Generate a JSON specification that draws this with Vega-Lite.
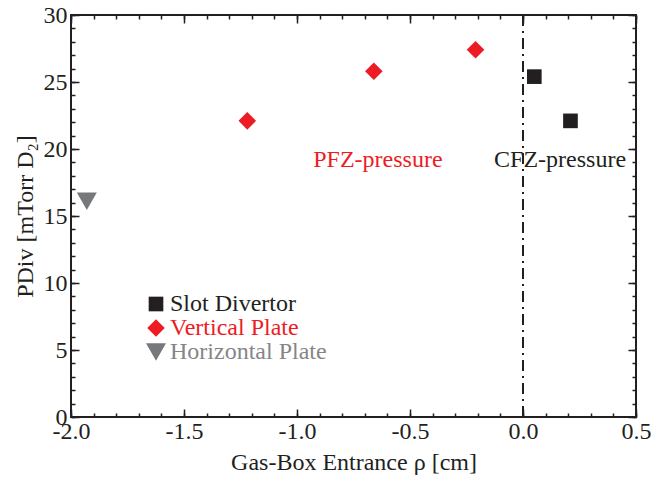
{
  "$schema": "https://vega.github.io/schema/vega-lite/v6.json",
  "width": 565,
  "height": 402,
  "autosize": {"type": "none"},
  "padding": {"left": 71, "top": 15, "right": 17, "bottom": 65},
  "background": "white",
  "config": {
    "view": {"stroke": "#231f20", "strokeWidth": 2},
    "font": "Liberation Serif",
    "axis": {
      "grid": false,
      "domain": false,
      "tickColor": "#231f20",
      "tickWidth": 1.5,
      "labelFont": "Liberation Serif",
      "labelFontSize": 24,
      "labelColor": "#231f20",
      "titleFont": "Liberation Serif",
      "titleFontSize": 24,
      "titleFontWeight": "normal",
      "titleColor": "#231f20",
      "labelFlush": false,
      "labelOverlap": false
    }
  },
  "datasets": {
    "points": [
      {"rho": -1.93, "p": 16.1, "setup": "Horizontal Plate"},
      {"rho": -1.22, "p": 22.1, "setup": "Vertical Plate"},
      {"rho": -0.66, "p": 25.8, "setup": "Vertical Plate"},
      {"rho": -0.21, "p": 27.4, "setup": "Vertical Plate"},
      {"rho": 0.05, "p": 25.4, "setup": "Slot Divertor"},
      {"rho": 0.21, "p": 22.1, "setup": "Slot Divertor"}
    ],
    "notes": [
      {"rho": -0.642, "p": 19.2, "text": "PFZ-pressure"},
      {"rho": 0.164, "p": 19.2, "text": "CFZ-pressure"}
    ]
  },
  "layer": [
    {
      "data": {"name": "points"},
      "mark": {"type": "point", "opacity": 0},
      "encoding": {
        "x": {"field": "rho", "type": "quantitative", "scale": {"domain": [-2, 0.5], "nice": false, "zero": false},
          "axis": {"orient": "top", "values": [-2, -1.5, -1, -0.5, 0, 0.5], "tickSize": -8, "labels": false, "title": null}},
        "y": {"field": "p", "type": "quantitative", "scale": {"domain": [0, 30], "nice": false},
          "axis": {"orient": "right", "values": [0, 5, 10, 15, 20, 25, 30], "tickSize": -8, "labels": false, "title": null}}
      }
    },
    {
      "data": {"name": "points"},
      "mark": {"type": "point", "opacity": 0},
      "encoding": {
        "x": {"field": "rho", "type": "quantitative",
          "axis": {"orient": "bottom", "values": [-2, -1.9, -1.8, -1.7, -1.6, -1.5, -1.4, -1.3, -1.2, -1.1, -1, -0.9, -0.8, -0.7, -0.6, -0.5, -0.4, -0.3, -0.2, -0.1, 0, 0.1, 0.2, 0.3, 0.4, 0.5], "tickSize": -4, "labels": false, "title": null}},
        "y": {"field": "p", "type": "quantitative",
          "axis": {"orient": "left", "values": [0, 1, 2, 3, 4, 5, 6, 7, 8, 9, 10, 11, 12, 13, 14, 15, 16, 17, 18, 19, 20, 21, 22, 23, 24, 25, 26, 27, 28, 29, 30], "tickSize": -4, "labels": false, "title": null}}
      }
    },
    {
      "data": {"name": "points"},
      "mark": {"type": "point", "opacity": 0},
      "encoding": {
        "x": {"field": "rho", "type": "quantitative",
          "axis": {"orient": "top", "values": [-2, -1.9, -1.8, -1.7, -1.6, -1.5, -1.4, -1.3, -1.2, -1.1, -1, -0.9, -0.8, -0.7, -0.6, -0.5, -0.4, -0.3, -0.2, -0.1, 0, 0.1, 0.2, 0.3, 0.4, 0.5], "tickSize": -4, "labels": false, "title": null}},
        "y": {"field": "p", "type": "quantitative",
          "axis": {"orient": "right", "values": [0, 1, 2, 3, 4, 5, 6, 7, 8, 9, 10, 11, 12, 13, 14, 15, 16, 17, 18, 19, 20, 21, 22, 23, 24, 25, 26, 27, 28, 29, 30], "tickSize": -4, "labels": false, "title": null}}
      }
    },
    {
      "data": {"values": [{"v": 0}]},
      "mark": {"type": "rule", "stroke": "#231f20", "strokeWidth": 2, "strokeDash": [11, 5, 2, 5]},
      "encoding": {
        "x": {"field": "v", "type": "quantitative", "axis": null}
      }
    },
    {
      "data": {"name": "notes"},
      "mark": {"type": "text", "font": "Liberation Serif", "fontSize": 24, "baseline": "middle", "align": "center"},
      "encoding": {
        "x": {"field": "rho", "type": "quantitative", "axis": null},
        "y": {"field": "p", "type": "quantitative", "axis": null},
        "text": {"field": "text"},
        "color": {"condition": {"test": "datum.text === 'PFZ-pressure'", "value": "#ed1c24"}, "value": "#231f20"}
      }
    },
    {
      "data": {"name": "points"},
      "mark": {"type": "point", "filled": true, "opacity": 1, "strokeWidth": 0},
      "encoding": {
        "x": {"field": "rho", "type": "quantitative",
          "axis": {"orient": "bottom", "values": [-2, -1.5, -1, -0.5, 0, 0.5], "tickSize": -8, "labelPadding": 10,
            "labelExpr": "replace(format(datum.value, '.1f'), '\u2212', '-')",
            "title": "Gas-Box Entrance ρ [cm]", "titlePadding": 7}},
        "y": {"field": "p", "type": "quantitative",
          "axis": {"orient": "left", "values": [0, 5, 10, 15, 20, 25, 30], "tickSize": -8, "labelPadding": 12,
            "title": "PDiv [mTorr D₂]", "titlePadding": 6}},
        "color": {"field": "setup", "type": "nominal",
          "scale": {"domain": ["Slot Divertor", "Vertical Plate", "Horizontal Plate"], "range": ["#231f20", "#ed1c24", "#77787b"]},
          "legend": {
            "orient": "none", "legendX": 73, "legendY": 277, "title": null, "padding": 0,
            "labelFont": "Liberation Serif", "labelFontSize": 24, "labelOffset": 2, "rowPadding": 0,
            "symbolOpacity": 1, "symbolStrokeWidth": 0,
            "encode": {"labels": {"update": {"fill": {"signal": "datum.value === 'Vertical Plate' ? '#ed1c24' : datum.value === 'Horizontal Plate' ? '#858588' : '#231f20'"}}}}
          }},
        "shape": {"field": "setup", "type": "nominal",
          "scale": {"domain": ["Slot Divertor", "Vertical Plate", "Horizontal Plate"], "range": ["square", "diamond", "triangle-down"]}},
        "size": {"field": "setup", "type": "nominal",
          "scale": {"domain": ["Slot Divertor", "Vertical Plate", "Horizontal Plate"], "range": [215, 400, 440]}}
      }
    }
  ],
  "resolve": {"axis": {"x": "independent", "y": "independent"}}
}
